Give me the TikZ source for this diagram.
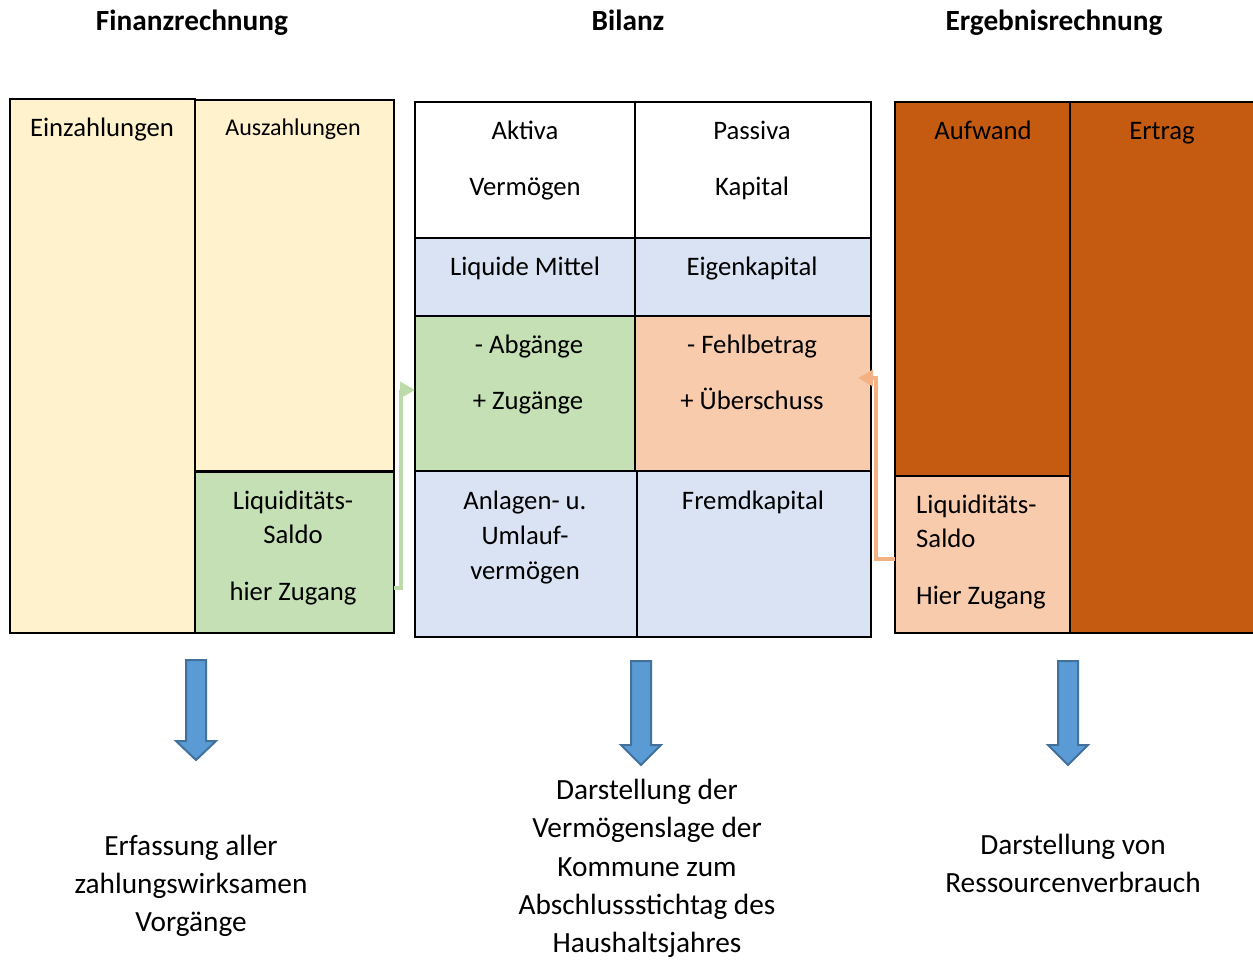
\documentclass[tikz,border=0pt]{standalone}
\usepackage{fontspec}
\setmainfont{Carlito}
\usetikzlibrary{arrows.meta}
\definecolor{cream}{HTML}{FFF2CC}
\definecolor{lgreen}{HTML}{C5E0B4}
\definecolor{lblue}{HTML}{DAE3F3}
\definecolor{lorange}{HTML}{F8CBAD}
\definecolor{dorange}{HTML}{C55A11}
\definecolor{arrblue}{HTML}{5B9BD5}
\definecolor{arrstroke}{HTML}{41719C}
\definecolor{gline}{HTML}{BDDBA8}
\definecolor{oline}{HTML}{F4B183}
\begin{document}
\begin{tikzpicture}[x=1pt,y=-1pt,
  box/.style={draw=black,line width=1.5pt,inner sep=0pt,outer sep=0pt,anchor=north west},
  title/.style={font=\fontsize{29.3}{35}\selectfont\bfseries,anchor=mid,inner sep=0pt},
  lbl/.style={font=\fontsize{26.7}{32}\selectfont,anchor=mid,inner sep=0pt},
  sml/.style={font=\fontsize{24}{29}\selectfont,anchor=mid,inner sep=0pt},
  note/.style={font=\fontsize{29.3}{35}\selectfont,anchor=mid,inner sep=0pt},
  link/.style={line width=4pt,-{Triangle[length=15pt,width=16pt]}},
  downarrow/.style={fill=arrblue,draw=arrstroke,line width=2pt,line join=miter}]
\useasboundingbox (0,0) rectangle (1253,959);
% titles
\node[title] (tfin) at (192,28) {Finanzrechnung};
\node[title] (tbil) at (628,28) {Bilanz};
\node[title] (terg) at (1054,28) {Ergebnisrechnung};
% Finanzrechnung
\node[box,fill=cream,minimum width=185pt,minimum height=534pt] (ein) at (10,99) {};
\node[box,fill=cream,minimum width=199pt,minimum height=371pt] (aus) at (195,100) {};
\node[box,fill=lgreen,minimum width=199pt,minimum height=161pt] (liqF) at (195,472) {};
\node[lbl] (einT) at (102,134) {Einzahlungen};
\node[sml] (ausT) at (293,133) {Auszahlungen};
\node[lbl] (liqF1) at (293,507) {Liquiditäts-};
\node[lbl] (liqF2) at (293,541) {Saldo};
\node[lbl] (liqF3) at (293,598) {hier Zugang};
% Bilanz
\node[box,fill=white,minimum width=220pt,minimum height=136pt] (akt) at (415,102) {};
\node[box,fill=white,minimum width=236pt,minimum height=136pt] (pas) at (635,102) {};
\node[box,fill=lblue,minimum width=220pt,minimum height=78pt] (lim) at (415,238) {};
\node[box,fill=lblue,minimum width=236pt,minimum height=78pt] (eik) at (635,238) {};
\node[box,fill=lgreen,minimum width=220pt,minimum height=155pt] (abg) at (415,316) {};
\node[box,fill=lorange,minimum width=236pt,minimum height=155pt] (fehl) at (635,316) {};
\node[box,fill=lblue,minimum width=222pt,minimum height=166pt] (anl) at (415,471) {};
\node[box,fill=lblue,minimum width=234pt,minimum height=166pt] (fre) at (637,471) {};
\node[lbl] (aktT) at (525,137) {Aktiva};
\node[lbl] (vermT) at (525,193) {Vermögen};
\node[lbl] (pasT) at (752,137) {Passiva};
\node[lbl] (kapT) at (752,193) {Kapital};
\node[lbl] (limT) at (525,273) {Liquide Mittel};
\node[lbl] (eikT) at (752,273) {Eigenkapital};
\node[lbl] (abgT) at (529,351) {- Abgänge};
\node[lbl] (zugT) at (528,407) {+ Zugänge};
\node[lbl] (fehlT) at (752,351) {- Fehlbetrag};
\node[lbl] (ubT) at (752,407) {+ Überschuss};
\node[lbl] (anl1) at (525,507) {Anlagen- u.};
\node[lbl] (anl2) at (525,542) {Umlauf-};
\node[lbl] (anl3) at (525,577) {vermögen};
\node[lbl] (freT) at (753,507) {Fremdkapital};
% Ergebnisrechnung
\node[box,fill=dorange,minimum width=175pt,minimum height=374pt] (auf) at (895,102) {};
\node[box,fill=lorange,minimum width=175pt,minimum height=157pt] (liqE) at (895,476) {};
\node[box,fill=dorange,minimum width=190pt,minimum height=531pt] (ert) at (1070,102) {};
\node[lbl] (aufT) at (983,137) {Aufwand};
\node[lbl] (ertT) at (1162,137) {Ertrag};
\node[lbl,anchor=mid west] (liqE1) at (916,511) {Liquiditäts-};
\node[lbl,anchor=mid west] (liqE2) at (916,545) {Saldo};
\node[lbl,anchor=mid west] (liqE3) at (916,602) {Hier Zugang};
% connectors
\draw[link,draw=gline] (liqF.east |- 0,588) -- (401,588) |- (abg.west |- 0,390);
\draw[link,draw=oline] (liqE.west |- 0,559) -- (876,559) |- (858,378);
% down arrows
\draw[downarrow] (186,660) -- (206,660) -- (206,741) -- (216,741) -- (196,760) -- (176,741) -- (186,741) -- cycle;
\draw[downarrow] (631,661) -- (651,661) -- (651,745) -- (661,745) -- (641,765) -- (621,745) -- (631,745) -- cycle;
\draw[downarrow] (1058,661) -- (1078,661) -- (1078,745) -- (1088,745) -- (1068,765) -- (1048,745) -- (1058,745) -- cycle;
% bottom notes
\node[note] (n11) at (191,853) {Erfassung aller};
\node[note] (n12) at (191,891) {zahlungswirksamen};
\node[note] (n13) at (191,929) {Vorgänge};
\node[note] (n21) at (647,797) {Darstellung der};
\node[note] (n22) at (647,835) {Vermögenslage der};
\node[note] (n23) at (647,874) {Kommune zum};
\node[note] (n24) at (647,912) {Abschlussstichtag des};
\node[note] (n25) at (647,950) {Haushaltsjahres};
\node[note] (n31) at (1073,852) {Darstellung von};
\node[note] (n32) at (1073,890) {Ressourcenverbrauch};
\end{tikzpicture}
\end{document}
